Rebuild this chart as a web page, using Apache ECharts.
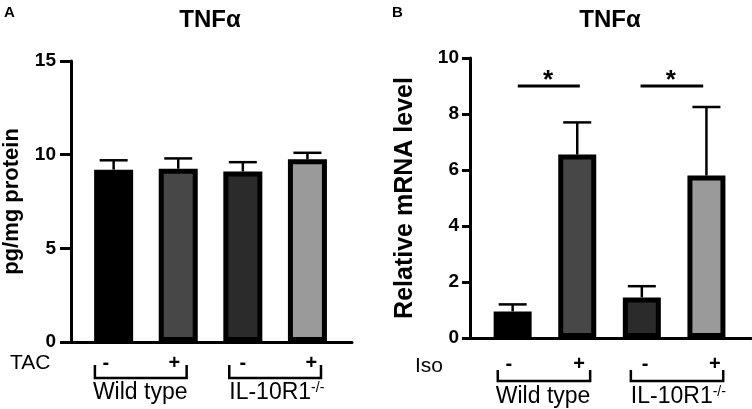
<!DOCTYPE html>
<html><head><meta charset="utf-8">
<script src="https://cdn.jsdelivr.net/npm/echarts@6/dist/echarts.min.js"></script>
<style>html,body{margin:0;padding:0;background:#fff}#c{width:752px;height:409px}</style>
</head><body><div id="c"></div>
<script>
// ---- data ----
const barPositions = [1, 2, 3, 4];
const barColors = ['#000000', '#474747', '#2b2b2b', '#9a9a9a'];
const proteinValues = [9.2, 9.25, 9.1, 9.75];
const proteinErrTop = [9.7, 9.8, 9.6, 10.1];
const mrnaValues = [0.95, 6.55, 1.45, 5.8];
const mrnaErrTop = [1.2, 7.7, 1.85, 8.25];
const proteinTickStep = 5;   // ticks 0,5,10,15
const proteinMax = 15;
const mrnaTickStep = 2;      // ticks 0,2,4,6,8,10
const mrnaMax = 10;
const groupNames = ['Wild type', 'IL-10R1'];
const signs = ['-', '+', '-', '+'];
const signPosA = [0.88, 1.94, 3.0, 4.06];
const signPosB = [0.94, 2.03, 3.05, 4.13];
const bracketsA = [[0.71, 2.13], [2.79, 4.21]];
const bracketsB = [[0.77, 2.2], [2.83, 4.26]];
const sigLines = [[1.08, 2.04, 9], [2.98, 3.95, 9]];
const sigStars = [[1.55, 9.4], [3.45, 9.4]];

const FONT = '"Liberation Sans", Arial, Helvetica, sans-serif';

const chart = echarts.init(document.getElementById('c'), null, {renderer: 'canvas'});

function barData(vals) {
  return barPositions.map((p, i) => ({value: [p, vals[i]], itemStyle: {color: barColors[i]}}));
}
function errData(vals, tops) {
  return barPositions.map((p, i) => [p, vals[i], tops[i]]);
}
function renderErr(params, api) {
  const b = api.coord([api.value(0), api.value(1)]);
  const t = api.coord([api.value(0), api.value(2)]);
  const half = 14;
  return {type: 'group', children: [
    {type: 'line', shape: {x1: b[0], y1: b[1], x2: t[0], y2: t[1]}, style: {stroke: '#000', lineWidth: 2.5}},
    {type: 'line', shape: {x1: t[0] - half, y1: t[1], x2: t[0] + half, y2: t[1]}, style: {stroke: '#000', lineWidth: 2.5}}
  ]};
}
function makeBracketRender(top, bot, nameY) {
  return function (params, api) {
    const p1 = api.coord([api.value(0), 0]);
    const p2 = api.coord([api.value(1), 0]);
    const y0 = p1[1];
    const gi = api.value(2);
    const name = gi === 0
      ? {type: 'text', style: {text: groupNames[0], x: p1[0] - 2, y: y0 + nameY, align: 'left', verticalAlign: 'middle',
          font: '23px ' + FONT, fill: '#000'}}
      : {type: 'text', style: {text: '{n|' + groupNames[1] + '}{s|-/-}', x: p1[0], y: y0 + nameY, align: 'left', verticalAlign: 'middle',
          fill: '#000', rich: {n: {fontSize: 23, fontFamily: FONT, verticalAlign: 'bottom'}, s: {fontSize: 14, fontFamily: FONT, verticalAlign: 'top'}}}};
    return {type: 'group', children: [
      {type: 'polyline', shape: {points: [[p1[0], y0 + top], [p1[0], y0 + bot], [p2[0], y0 + bot], [p2[0], y0 + top]]},
        style: {stroke: '#000', lineWidth: 2.5, fill: null}},
      name
    ]};
  };
}
function makeSignRender(dy) {
  return function (params, api) {
    const p = api.coord([api.value(0), 0]);
    return {type: 'text', style: {text: signs[api.value(1)], x: p[0], y: p[1] + dy, align: 'center', verticalAlign: 'middle',
      font: 'bold 20px ' + FONT, fill: '#000'}};
  };
}

function yAxisCfg(gridIndex, max, step, name, nameGap, nameSize, tickLen, margin) {
  return {
    type: 'value', gridIndex, min: 0, max, interval: step,
    name, nameLocation: 'middle', nameRotate: 90, nameGap,
    nameTextStyle: {fontFamily: FONT, fontWeight: 'bold', fontSize: nameSize, color: '#000'},
    axisLine: {show: true, lineStyle: {color: '#000', width: 3}},
    axisTick: {show: true, length: tickLen, lineStyle: {color: '#000', width: 3}},
    axisLabel: {margin, formatter: '{b|{value}}',
      rich: {b: {fontFamily: FONT, fontWeight: 'bold', fontSize: 19, color: '#000'}}},
    splitLine: {show: false}
  };
}
function xAxisCfg(gridIndex) {
  return {
    type: 'value', gridIndex, min: 0.34, max: 4.69,
    axisLine: {show: true, onZero: false, lineStyle: {color: '#000', width: 3}},
    axisTick: {show: false}, axisLabel: {show: false}, splitLine: {show: false}
  };
}

const option = {
  animation: false,
  backgroundColor: '#fff',
  grid: [
    {left: 70, top: 61, width: 282, height: 281},
    {left: 470, top: 58, width: 281, height: 280}
  ],
  xAxis: [xAxisCfg(0), xAxisCfg(1)],
  yAxis: [
    yAxisCfg(0, proteinMax, proteinTickStep, 'pg/mg protein', 48, 22, 11, 15),
    yAxisCfg(1, mrnaMax, mrnaTickStep, 'Relative mRNA level', 52, 25, 8, 11)
  ],
  graphic: [
    {type: 'text', left: 4, top: 5, style: {text: 'A', font: 'bold 15px ' + FONT, fill: '#000'}},
    {type: 'text', left: 392, top: 5, style: {text: 'B', font: 'bold 15px ' + FONT, fill: '#000'}},
    {type: 'text', x: 210, y: 20, style: {text: 'TNFα', font: 'bold 24px ' + FONT, fill: '#000', align: 'center', verticalAlign: 'middle'}},
    {type: 'text', x: 610, y: 20, style: {text: 'TNFα', font: 'bold 24px ' + FONT, fill: '#000', align: 'center', verticalAlign: 'middle'}},
    {type: 'text', x: 10, y: 363, style: {text: 'TAC', font: '21px ' + FONT, fill: '#000', align: 'left', verticalAlign: 'middle'}},
    {type: 'text', x: 415, y: 366, style: {text: 'Iso', font: '21px ' + FONT, fill: '#000', align: 'left', verticalAlign: 'middle'}}
  ],
  series: [
    {type: 'bar', xAxisIndex: 0, yAxisIndex: 0, barWidth: 39, data: barData(proteinValues),
      itemStyle: {borderColor: '#000', borderWidth: 5}, z: 2},
    {type: 'custom', xAxisIndex: 0, yAxisIndex: 0, data: errData(proteinValues, proteinErrTop), renderItem: renderErr, z: 3},
    {type: 'bar', xAxisIndex: 1, yAxisIndex: 1, barWidth: 38, data: barData(mrnaValues),
      itemStyle: {borderColor: '#000', borderWidth: 5}, z: 2},
    {type: 'custom', xAxisIndex: 1, yAxisIndex: 1, data: errData(mrnaValues, mrnaErrTop), renderItem: renderErr, z: 3},
    {type: 'custom', xAxisIndex: 1, yAxisIndex: 1, data: sigLines, z: 3,
      renderItem: function (params, api) {
        const a = api.coord([api.value(0), api.value(2)]);
        const b = api.coord([api.value(1), api.value(2)]);
        return {type: 'line', shape: {x1: a[0], y1: a[1], x2: b[0], y2: b[1]}, style: {stroke: '#000', lineWidth: 3}};
      }},
    {type: 'custom', xAxisIndex: 1, yAxisIndex: 1, data: sigStars, z: 3,
      renderItem: function (params, api) {
        const p = api.coord([api.value(0), api.value(1)]);
        return {type: 'text', style: {text: '*', x: p[0], y: p[1] + 6, align: 'center', verticalAlign: 'middle',
          font: 'bold 26px ' + FONT, fill: '#000'}};
      }},
    {type: 'custom', xAxisIndex: 0, yAxisIndex: 0, clip: false, data: bracketsA.map((b, i) => [b[0], b[1], i]),
      renderItem: makeBracketRender(23, 36, 51)},
    {type: 'custom', xAxisIndex: 1, yAxisIndex: 1, clip: false, data: bracketsB.map((b, i) => [b[0], b[1], i]),
      renderItem: makeBracketRender(32, 43, 59)},
    {type: 'custom', xAxisIndex: 0, yAxisIndex: 0, clip: false, data: signPosA.map((p, i) => [p, i]),
      renderItem: makeSignRender(21)},
    {type: 'custom', xAxisIndex: 1, yAxisIndex: 1, clip: false, data: signPosB.map((p, i) => [p, i]),
      renderItem: makeSignRender(26)}
  ]
};
chart.setOption(option);
</script>
</body></html>
